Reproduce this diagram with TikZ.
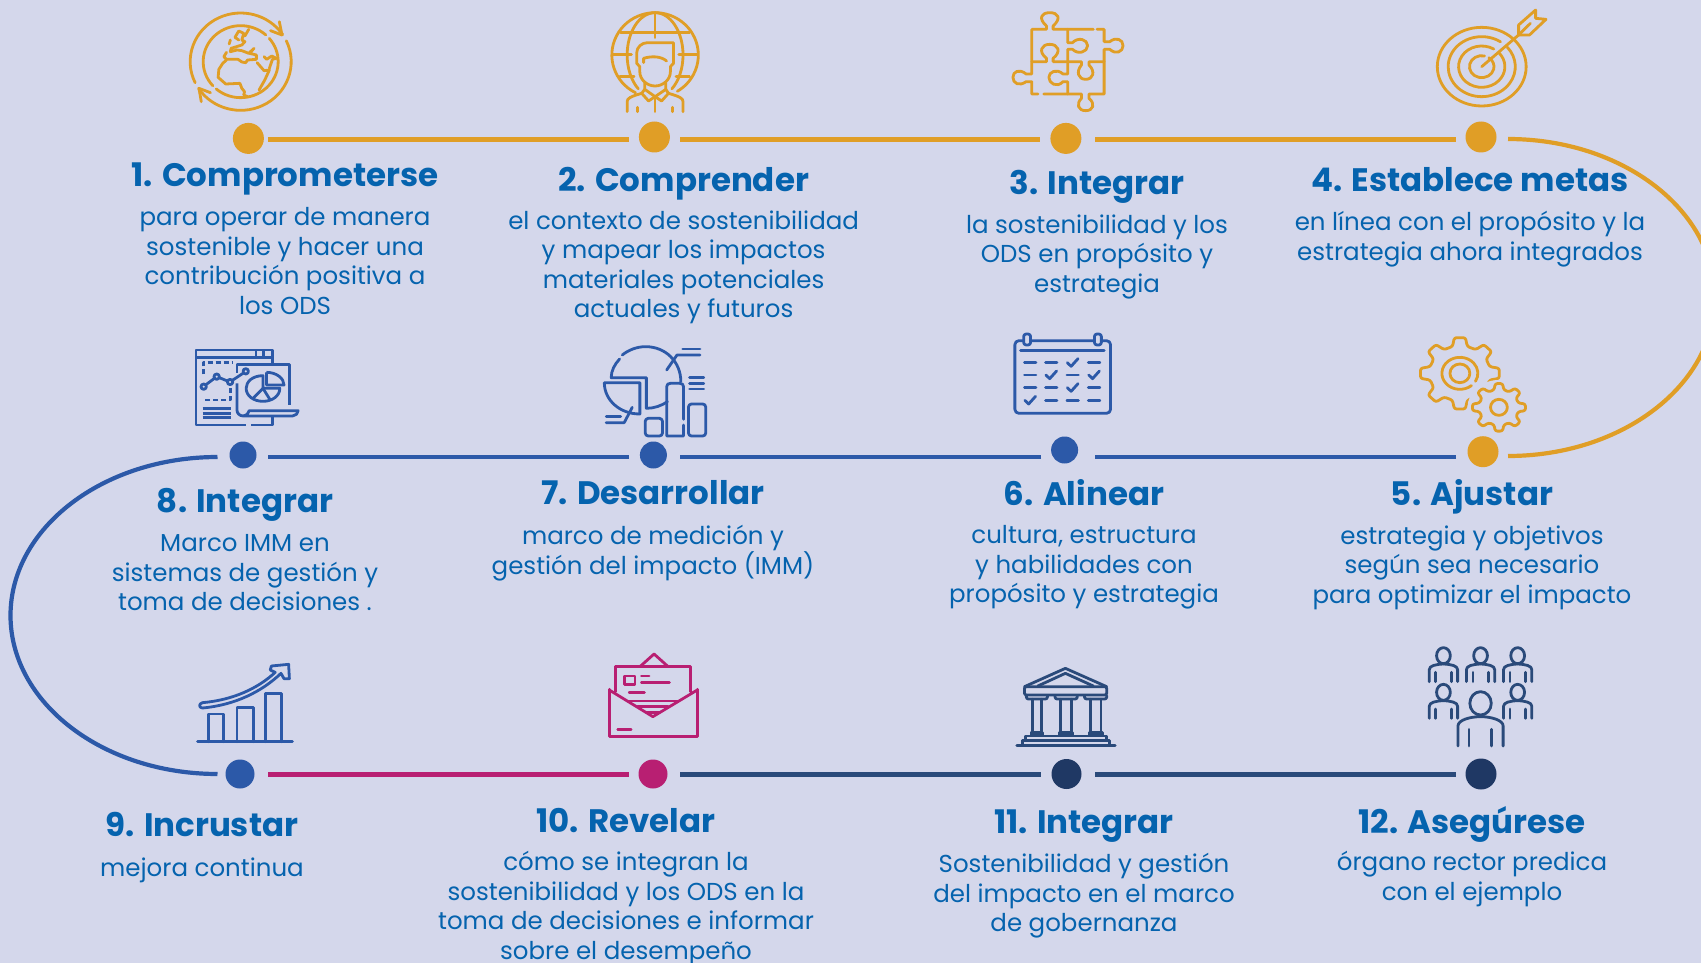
\documentclass[tikz,border=0pt]{standalone}
\usepackage{fontspec}
\usetikzlibrary{calc}
\setmainfont{Poppins}
\definecolor{bgc}{HTML}{D4D7EB}
\definecolor{goldc}{HTML}{E09E26}
\definecolor{bluec}{HTML}{2C59A8}
\definecolor{magc}{HTML}{B81F72}
\definecolor{navyc}{HTML}{1F3864}
\definecolor{navyl}{HTML}{2A4A7A}
\definecolor{textc}{HTML}{0563AE}
\def\zx{0.38265}
\def\zxb{0.47258}
\def\zy{0.33333}
\tikzset{
  dot/.style={circle,draw=none,inner sep=0,minimum size=#1},
  seg/.style={line width=4.8pt},
  ttl/.style={text=textc,inner sep=0,font=\fontsize{32.5}{34}\selectfont\bfseries,anchor=center,execute at begin node={\strut}},
  bdy/.style={text=textc,inner sep=0,align=center,anchor=north,font=\fontsize{24.5}{29.6}\selectfont,execute at begin node={\strut}},
  ico/.style={line width=2.8pt,line cap=round,line join=round},
  zoomA/.style 2 args={shift={(#1,#2)},x=\zx pt,y=-\zy pt},
  zoomB/.style 2 args={shift={(#1,#2)},x=\zxb pt,y=-\zy pt},
}
\newcommand{\gearpath}[3]{%
  \draw[ico,fill=#3,rounded corners=2.2pt] \foreach \a [count=\i] in {270,315,...,585} {
    \ifnum\i=1 (\a-14:#2) \else -- (\a-14:#2) \fi
    -- (\a-8:#1) -- (\a+8:#1) -- (\a+14:#2) } -- cycle;}
\begin{document}
\begin{tikzpicture}[x=1pt,y=-1pt]
\path[use as bounding box,fill=bgc] (0,0) rectangle (1701,963);

%% curves
\draw[seg,line width=4.2pt,goldc] (1508,139) arc[start angle=-90,end angle=90,x radius=207,y radius=158.5];
\draw[seg,line width=4.2pt,bluec] (217.5,457) arc[start angle=270,end angle=90,x radius=207,y radius=158.5];

%% dots
\node[dot=31,fill=goldc] (d1) at (248.4,138.4) {};
\node[dot=31,fill=goldc] (d2) at (654.4,137) {};
\node[dot=31,fill=goldc] (d3) at (1065.9,138.4) {};
\node[dot=31,fill=goldc] (d4) at (1481,137) {};
\node[dot=31,fill=goldc] (d5) at (1483,451.7) {};
\node[dot=27,fill=bluec] (d6) at (1064.6,450) {};
\node[dot=27,fill=bluec] (d7) at (653.4,455) {};
\node[dot=27,fill=bluec] (d8) at (243,455) {};
\node[dot=29,fill=bluec] (d9) at (240,774) {};
\node[dot=29,fill=magc] (d10) at (653,774) {};
\node[dot=30,fill=navyc] (d11) at (1066.5,774) {};
\node[dot=31,fill=navyc] (d12) at (1481,774) {};

%% straight connectors
\draw[seg,goldc] ($(d1)+(19.5,1)$) -- ($(d2)+(-25.4,2.4)$);
\draw[seg,goldc] ($(d2)+(25.6,2.4)$) -- ($(d3)+(-25.6,1)$);
\draw[seg,goldc] ($(d3)+(29.1,1)$) -- ($(d4)+(-25,2.4)$);
\draw[seg,bluec] ($(d5)+(-27,5.3)$) -- ($(d6)+(30.4,7)$);
\draw[seg,bluec] ($(d6)+(-23.6,7)$) -- ($(d7)+(26.6,2)$);
\draw[seg,bluec] ($(d7)+(-24.4,2)$) -- ($(d8)+(25,2)$);
\draw[seg,magc] ($(d9)+(28,0.3)$) -- ($(d10)+(-24,0.3)$);
\draw[seg,navyl] ($(d10)+(27,0.3)$) -- ($(d11)+(-25.5,0.3)$);
\draw[seg,navyl] ($(d11)+(28.5,0.3)$) -- ($(d12)+(-25,0.3)$);

%% texts
\node[ttl] (t1) at (285,180) {1. Comprometerse};
\node[bdy] (b1) at (285,207.3) {para operar de manera\\sostenible y hacer una\\contribución positiva a\\los ODS};
\node[ttl] (t2) at (683.6,184) {2. Comprender};
\node[bdy] (b2) at (683.6,210.3) {el contexto de sostenibilidad\\y mapear los impactos\\materiales potenciales\\actuales y futuros};
\node[ttl] (t3) at (1097,187) {3. Integrar};
\node[bdy] (b3) at (1097,214.3) {la sostenibilidad y los\\ODS en propósito y\\estrategia};
\node[ttl] (t4) at (1470,185) {4. Establece metas};
\node[bdy] (b4) at (1470,211.3) {en línea con el propósito y la\\estrategia ahora integrados};
\node[ttl] (t5) at (1472,498) {5. Ajustar};
\node[bdy] (b5) at (1472,525.3) {estrategia y objetivos\\según sea necesario\\para optimizar el impacto};
\node[ttl] (t6) at (1084,498) {6. Alinear};
\node[bdy] (b6) at (1084,525.3) {cultura, estructura\\y habilidades con\\propósito y estrategia};
\node[ttl] (t7) at (653,498) {7. Desarrollar};
\node[bdy] (b7) at (653,525.3) {marco de medición y\\gestión del impacto (IMM)};
\node[ttl] (t8) at (245,505) {8. Integrar};
\node[bdy] (b8) at (245,534.5) {Marco IMM en\\sistemas de gestión y\\toma de decisiones .};
\node[ttl] (t9) at (202,829) {9. Incrustar};
\node[bdy] (b9) at (202,855.5) {mejora continua};
\node[ttl] (t10) at (626,825) {10. Revelar};
\node[bdy] (b10) at (626,851) {cómo se integran la\\sostenibilidad y los ODS en la\\toma de decisiones e informar\\sobre el desempeño};
\node[ttl] (t11) at (1084,827) {11. Integrar};
\node[bdy] (b11) at (1084,853) {Sostenibilidad y gestión\\del impacto en el marco\\de gobernanza};
\node[ttl] (t12) at (1472,825) {12. Asegúrese};
\node[bdy] (b12) at (1472,851) {órgano rector predica\\con el ejemplo};

%% ICON 1 globe
\begin{scope}[zoomA={150}{0},ico,goldc]
\draw (237,185)++(154.4:132 and 146) arc[start angle=154.4,end angle=326.2,x radius=132,y radius=146];
\draw (237,185)++(334.6:132 and 146) arc[start angle=334.6,end angle=506.4,x radius=132,y radius=146];
\draw (338,65) -- (345,105) -- (315,92);
\draw (158,278) -- (128,265) -- (134,305);
\draw (237,185)++(130.7:98 and 108) arc[start angle=130.7,end angle=-40.3,x radius=98,y radius=108];
\draw (237,185)++(138:98 and 108) arc[start angle=138,end angle=312,x radius=98,y radius=108];
\draw (200,180)--(190,190)--(180,208)--(178,232)--(198,252)--(235,250)--(240,265)--(247,275)--(245,285)--(255,290);
\draw (285,270)--(300,240)--(312,210)--(298,212)--(280,188);
\draw (200,157)--(193,170)--(200,178)--(230,178)--(240,186)--(250,188)--(255,180)--(278,178)--(278,165)--(260,160)--(272,145)--(258,160)--(240,152)--(228,150)--(210,155)--(212,145)--(240,135)--(248,125)--(240,120)--(245,100)--(232,93)--(222,112)--(232,120);
\draw (248,108)--(258,88);
\draw (210,120)--(207,132);
\draw (298,170)--(305,178)--(318,168)--(330,175)--(320,178)--(312,205);
\end{scope}

%% ICON 2 person globe
\begin{scope}[zoomA={150}{0},ico,goldc]
\draw (1320,165)++(116.8:113 and 127) arc[start angle=116.8,end angle=419,x radius=113,y radius=127];
\draw (1320,165)++(270:73 and 127) arc[start angle=270,end angle=127,x radius=73,y radius=127];
\draw (1320,165)++(270:73 and 127) arc[start angle=270,end angle=413,x radius=73,y radius=127];
\draw (1320,38)--(1320,113);
\draw (1230,97)--(1410,97);
\draw (1210,163)--(1258,163);
\draw (1382,163)--(1430,163);
\draw (1228,230)--(1265,230);
\draw (1375,230)--(1410,230);
\draw (1368,128)--(1300,128) .. controls (1285,128) and (1272,142) .. (1272,158) -- (1272,190) -- (1280,200) -- (1280,215) .. controls (1280,240) and (1300,258) .. (1320,258) .. controls (1340,258) and (1360,240) .. (1360,215) -- (1360,200) -- (1368,190) -- cycle;
\draw (1290,188)--(1290,175) .. controls (1310,168) and (1335,168) .. (1350,183);
\draw (1293,250)--(1293,268)--(1320,290)--(1348,268)--(1348,250);
\draw (1293,268)--(1285,280)--(1303,303)--(1320,290)--(1337,303)--(1355,280)--(1348,268);
\draw (1247,335)--(1247,305) .. controls (1247,295) and (1255,290) .. (1285,280);
\draw (1355,280) .. controls (1385,290) and (1393,295) .. (1393,305) -- (1393,335);
\draw (1320,295)--(1320,335);
\draw (1273,322)--(1273,335);
\draw (1366,322)--(1366,335);
\end{scope}

%% ICON 3 puzzle
\begin{scope}[zoomB={960}{0},ico,goldc]
\draw (282,88)--(197,88)--(197,78) .. controls (215,55) and (208,38) .. (190,38) .. controls (172,38) and (165,55) .. (183,78) -- (183,88) -- (152,88) -- (152,222) -- (140,222) .. controls (125,205) and (112,215) .. (112,232) .. controls (112,250) and (125,260) .. (140,245) -- (152,245) -- (152,282) -- (165,282);
\draw (177,282)--(257,282)--(257,295) .. controls (245,312) and (250,332) .. (266,332) .. controls (282,332) and (287,312) .. (273,295) -- (273,282) -- (305,282) -- (305,148) -- (317,148) .. controls (330,165) and (345,155) .. (345,137) .. controls (345,118) and (330,110) .. (317,125) -- (305,125) -- (305,88) -- (290,88);
\draw (152,185)--(183,185)--(183,175) .. controls (165,155) and (172,133) .. (190,133) .. controls (208,133) and (215,155) .. (197,175) -- (197,185) -- (257,185) -- (257,195) .. controls (245,215) and (250,238) .. (266,238) .. controls (282,238) and (287,215) .. (273,195) -- (273,185) -- (305,185);
\draw (228,88)--(228,128)--(238,128) .. controls (250,110) and (270,118) .. (270,137) .. controls (270,156) and (250,165) .. (238,148) -- (228,148) -- (228,222) -- (218,222) .. controls (205,205) and (188,215) .. (188,232) .. controls (188,250) and (205,265) .. (218,245) -- (228,245) -- (228,282);
\end{scope}

%% ICON 4 target
\begin{scope}[zoomB={960}{0},ico,goldc]
\draw (1104,200) ellipse[x radius=94,y radius=118];
\draw (1104,200)++(304:71 and 90) arc[start angle=304,end angle=-40.4,x radius=71,y radius=90];
\draw (1104,200)++(301.3:49 and 62) arc[start angle=301.3,end angle=-41,x radius=49,y radius=62];
\draw (1104,200)++(283.4:26 and 33) arc[start angle=283.4,end angle=-54.6,x radius=26,y radius=33];
\draw (1104,200)--(1182,105);
\draw (1182,105)--(1182,75)--(1218,30)--(1218,55)--(1240,58)--(1205,105)--cycle;
\draw (1182,105)--(1207,70);
\end{scope}

%% ICON 8 dashboard
\begin{scope}[zoomA={170}{330},ico,bluec,line cap=butt]
\draw (198,285)--(68,285)--(68,60)--(267,60)--(267,103);
\draw (212,285)--(267,285)--(267,262);
\draw (68,82)--(267,82);
\draw (225,60)--(225,82);
\draw (245,60)--(245,82);
\draw[dash pattern=on 5pt off 3pt] (87,133)--(87,98)--(162,98);
\draw[dash pattern=on 5pt off 3pt] (158,175)--(158,210)--(87,210);
\draw (88,170) ellipse[x radius=7,y radius=8];
\draw (122,140) ellipse[x radius=7,y radius=8];
\draw (157,156) ellipse[x radius=7,y radius=8];
\draw (198,124) ellipse[x radius=7,y radius=8];
\draw (94,164)--(116,145);
\draw (129,143)--(150,153);
\draw (163,151)--(192,129);
\draw (175,128)--(175,103)--(313,103)--(313,225);
\draw (175,160)--(175,240) .. controls (175,250) and (182,258) .. (192,258) -- (320,258) .. controls (328,258) and (335,250) .. (335,242) -- (207,242) .. controls (205,250) and (200,258) .. (192,258);
\draw (243,137) .. controls (216,137) and (199,155) .. (199,175) .. controls (199,197) and (218,214) .. (243,214) .. controls (268,214) and (287,197) .. (287,175) -- (243,175) -- cycle;
\draw (243,175)--(217,205);
\draw (243,175)--(262,210);
\draw (252,127)--(252,165)--(298,165) .. controls (298,145) and (278,127) .. (252,127);
\draw (85,235)--(160,235);
\draw (85,250)--(160,250);
\draw (85,263)--(160,263);
\end{scope}

%% ICON 7 charts
\begin{scope}[zoomA={170}{330},ico,bluec]
\draw (1175,87) .. controls (1162,103) and (1153,122) .. (1153,143) -- (1245,143) -- (1245,235) .. controls (1265,235) and (1285,227) .. (1300,215);
\draw (1182,75) .. controls (1198,60) and (1220,50) .. (1243,50) .. controls (1295,50) and (1335,95) .. (1335,155);
\draw (1135,158)--(1228,158)--(1228,252) .. controls (1175,252) and (1135,210) .. (1135,158);
\draw (1208,232)--(1187,278)--(1140,278);
\draw (1140,260)--(1178,260);
\draw (1298,120)--(1325,75)--(1385,75);
\draw (1340,57)--(1385,57);
\draw (1342,268)--(1342,170) .. controls (1342,163) and (1338,160) .. (1332,160) -- (1308,160) .. controls (1302,160) and (1298,163) .. (1298,170) -- (1298,318) -- (1342,318) -- (1342,285);
\draw[rounded corners=3pt] (1242,318) rectangle (1287,265);
\draw[rounded corners=3pt] (1355,318) rectangle (1400,222);
\draw (1358,142)--(1395,142);
\draw (1358,160)--(1395,160);
\draw (1358,177)--(1395,177);
\end{scope}

%% ICON 6 calendar
\begin{scope}[zoomA={990}{320},ico,bluec]
\draw[rounded corners=4pt] (65,62) rectangle (315,280);
\draw[fill=bgc,rounded corners=2.5pt] (88,42) rectangle (106,75);
\draw[fill=bgc,rounded corners=2.5pt] (273,42) rectangle (291,75);
\draw[line width=3.2pt] (80,91)--(298,91);
\foreach \cx/\cy in {105/128,160/128,272/128,105/165,216/165,105/203,160/203,272/203,160/241,216/241,272/241}
  \draw[line width=2.8pt] (\cx-15,\cy)--(\cx+15,\cy);
\foreach \cx/\cy in {216/128,160/165,272/165,216/203,105/241}
  \draw[line width=2.8pt] (\cx-14,\cy)--(\cx-4,\cy+11)--(\cx+14,\cy-12);
\end{scope}

%% ICON 5 gears
\begin{scope}[zoomA={990}{320},goldc]
\begin{scope}[shift={(1228,160)}]
\gearpath{104 and 108}{80 and 83}{none}
\end{scope}
\begin{scope}[shift={(1330,262)}]
\fill[bgc] (0,0) ellipse[x radius=82,y radius=82];
\gearpath{70 and 72}{52 and 54}{bgc}
\draw[ico] (0,0) ellipse[x radius=22,y radius=24];
\end{scope}
\begin{scope}[shift={(1228,160)},ico]
\draw (0,0) ellipse[x radius=26,y radius=28];
\draw (50:47 and 48) arc[start angle=50,end angle=390,x radius=47,y radius=48];
\end{scope}
\end{scope}

%% ICON 9 growth
\begin{scope}[zoomA={170}{640},ico,bluec]
\draw (72,305)--(320,305);
\draw (100,305)--(100,222)--(140,222)--(140,305);
\draw (175,305)--(175,203)--(218,203)--(218,305);
\draw (250,305)--(250,160)--(292,160)--(292,305);
\draw (85,204) .. controls (170,195) and (240,155) .. (290,100) -- (298,116) -- (312,116) -- (310,73) -- (265,78) -- (262,90) -- (275,97) .. controls (230,145) and (165,180) .. (85,188) .. controls (75,190) and (75,204) .. (85,204) -- cycle;
\end{scope}

%% ICON 10 envelope
\begin{scope}[zoomA={170}{640},ico,magc]
\draw (1165,155)--(1165,80)--(1360,80)--(1360,155);
\draw (1230,78)--(1265,42)--(1300,78);
\draw (1148,148)--(1148,290)--(1378,290)--(1378,148);
\draw (1148,150)--(1262,230)--(1378,150);
\draw (1188,108) rectangle (1215,133);
\draw (1232,108)--(1252,108);
\draw (1232,128)--(1305,128);
\draw (1200,158)--(1240,158);
\draw (1195,183)--(1330,183);
\draw (1222,200)--(1302,200);
\draw (1245,218)--(1280,218);
\draw (1170,268)--(1205,268);
\end{scope}

%% ICON 11 temple
\begin{scope}[zoomA={990}{640},ico,navyl]
\draw (90,140)--(197,85)--(305,140);
\draw (125,138)--(197,100)--(270,138);
\draw[rounded corners=2pt] (90,140) rectangle (305,165);
\foreach \cl/\cr in {110/135,185/213,262/290}{
  \draw (\cl,178)--(\cl,280);
  \draw (\cr,178)--(\cr,280);
  \draw[rounded corners=2pt] (\cl-15,167)--(\cl-15,177)--(\cr+15,177)--(\cr+15,167);
  \draw (\cl-3,278)--(\cr+3,278)--(\cr+3,287)--(\cl-3,287)--cycle;
}
\draw (92,300)--(92,288)--(305,288)--(305,300);
\draw (85,315)--(85,302)--(312,302)--(312,315);
\draw (70,316)--(327,316);
\end{scope}

%% ICON 12 people
\begin{scope}[zoomA={990}{640},ico,navyl]
\foreach \px/\py in {1185/47,1282/47,1379/47,1185/157,1379/157}{
  \draw (\px,\py) ellipse[x radius=18,y radius=24];
  \draw (\px-37,\py+78)--(\px-37,\py+42) .. controls (\px-37,\py+30) and (\px-20,\py+26) .. (\px,\py+25) .. controls (\px+20,\py+26) and (\px+37,\py+30) .. (\px+37,\py+42) -- (\px+37,\py+78);
  \draw (\px-20,\py+50)--(\px-20,\py+78);
  \draw (\px+20,\py+50)--(\px+20,\py+78);
}
\draw (1282,190) ellipse[x radius=28,y radius=35];
\draw (1223,318)--(1223,258) .. controls (1223,240) and (1255,230) .. (1282,230) .. controls (1309,230) and (1341,240) .. (1341,258) -- (1341,318);
\draw (1252,268)--(1252,318);
\draw (1311,268)--(1311,318);
\end{scope}
\end{tikzpicture}
\end{document}
